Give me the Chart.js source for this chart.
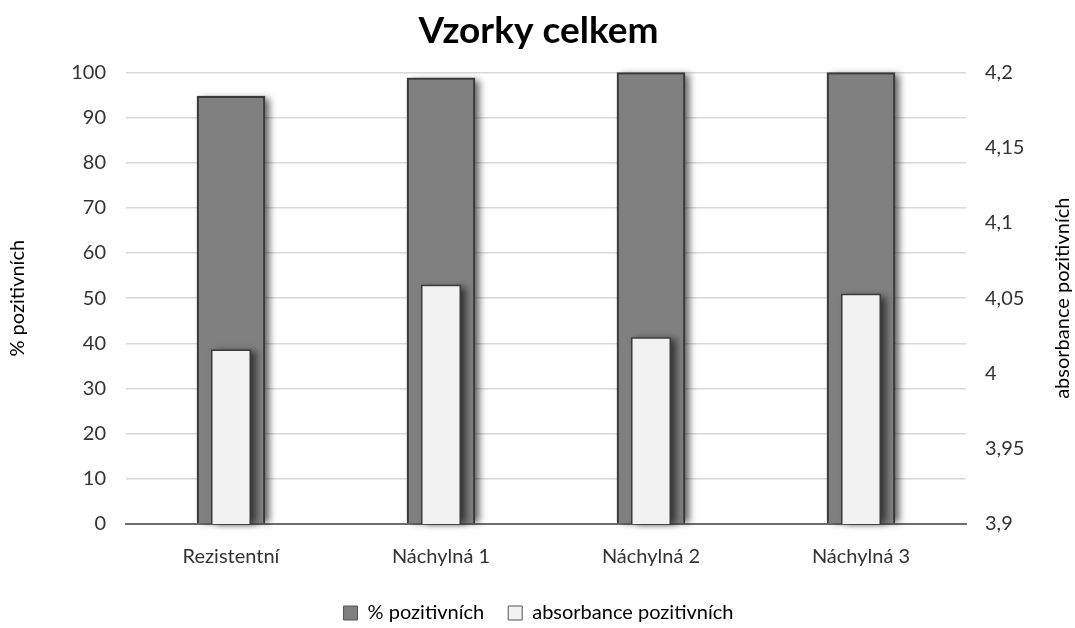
<!DOCTYPE html>
<html>
<head>
<meta charset="utf-8">
<script src="https://cdn.jsdelivr.net/npm/chart.js@4.4.1/dist/chart.umd.min.js"></script>
<style>
  html, body { margin: 0; padding: 0; background: #fff; }
  #wrap { width: 1075px; height: 628px; }
</style>
</head>
<body>
<div id="wrap"><canvas id="chart"></canvas></div>
<script>
// data
var categories = ["Rezistentní", "Náchylná 1", "Náchylná 2", "Náchylná 3"];
var pozitivni = [94.8, 98.8, 100, 100];
var absorbance = [4.016, 4.059, 4.024, 4.053];
var leftTicks = [0, 10, 20, 30, 40, 50, 60, 70, 80, 90, 100];
var rightTicks = [3.9, 3.95, 4, 4.05, 4.1, 4.15, 4.2];
var rightTitle = "absorbance pozitivních";

var FONT = "Lato, 'Open Sans', sans-serif";

// drop shadow under the bars (bar element clips its own shadow, so paint it first)
var barShadow = {
    id: 'barShadow',
    beforeDatasetDraw: function(chart, args) {
        var ctx = chart.ctx;
        var area = chart.chartArea;
        args.meta.data.forEach(function(bar) {
            var p = bar.getProps(['x', 'y', 'base', 'width'], true);
            var top = Math.max(Math.min(p.y, p.base), area.top);
            var bottom = Math.min(Math.max(p.y, p.base), area.bottom);
            ctx.save();
            ctx.shadowColor = 'rgba(0,0,0,0.6)';
            ctx.shadowBlur = 7;
            ctx.shadowOffsetX = 5;
            ctx.shadowOffsetY = 2;
            ctx.fillStyle = '#555';
            ctx.fillRect(p.x - p.width / 2, top, p.width, bottom - top - 2);
            ctx.restore();
        });
    }
};

// right axis title reads bottom-to-top like the Excel original
var rightAxisTitle = {
    id: 'rightAxisTitle',
    afterDraw: function(chart) {
        var ctx = chart.ctx;
        var area = chart.chartArea;
        ctx.save();
        ctx.translate(1063, (area.top + area.bottom) / 2);
        ctx.rotate(-Math.PI / 2);
        ctx.textAlign = 'center';
        ctx.textBaseline = 'middle';
        ctx.fillStyle = '#000';
        ctx.font = "20px " + FONT;
        ctx.fillText(rightTitle, 0, 0);
        ctx.restore();
    }
};

new Chart(document.getElementById("chart"), {
    type: 'bar',
    data: {
        labels: categories,
        datasets: [
            {
                label: "% pozitivních",
                data: pozitivni,
                yAxisID: 'y',
                backgroundColor: "#808080",
                borderColor: "#3a3a3a",
                borderWidth: 2,
                grouped: false,
                categoryPercentage: 1,
                barPercentage: 0.325,
                order: 2
            },
            {
                label: rightTitle,
                data: absorbance,
                yAxisID: 'y1',
                backgroundColor: "#f2f2f2",
                borderColor: "#3a3a3a",
                borderWidth: 1.5,
                grouped: false,
                categoryPercentage: 1,
                barPercentage: 0.19,
                order: 1
            }
        ]
    },
    options: {
        responsive: true,
        maintainAspectRatio: false,
        animation: false,
        layout: { padding: { top: 5, left: 6, right: 4, bottom: -5 } },
        plugins: {
            title: {
                display: true,
                text: 'Vzorky celkem',
                color: '#000',
                font: { family: FONT, size: 37, weight: 'bold' },
                padding: { top: 4, bottom: 19 }
            },
            legend: {
                position: 'bottom',
                labels: {
                    color: '#333',
                    font: { family: FONT, size: 20 },
                    boxWidth: 14,
                    boxHeight: 14,
                    padding: 24,
                    generateLabels: function(chart) {
                        return chart.data.datasets.map(function(ds, i) {
                            return {
                                text: ds.label,
                                fillStyle: ds.backgroundColor,
                                strokeStyle: '#555',
                                lineWidth: 1,
                                datasetIndex: i
                            };
                        });
                    }
                }
            },
            tooltip: { enabled: false }
        },
        scales: {
            x: {
                grid: { display: false, drawTicks: false },
                border: { display: true, color: '#6e6e6e', width: 2 },
                ticks: {
                    color: '#333',
                    font: { family: FONT, size: 20 },
                    padding: 21
                },
                afterFit: function(scale) { scale.height = 55; }
            },
            y: {
                position: 'left',
                min: 0,
                max: 100,
                afterBuildTicks: function(scale) {
                    scale.ticks = leftTicks.map(function(v) { return { value: v }; });
                },
                grid: { color: '#d9d9d9', lineWidth: 1.5, drawTicks: false },
                border: { display: false },
                ticks: {
                    color: '#333',
                    font: { family: FONT, size: 20 },
                    padding: 20
                },
                title: {
                    display: true,
                    text: '% pozitivních',
                    color: '#000',
                    font: { family: FONT, size: 20 },
                    padding: { top: 0, bottom: 8 }
                },
                afterFit: function(scale) { scale.width = 120; }
            },
            y1: {
                position: 'right',
                min: 3.9,
                max: 4.2,
                afterBuildTicks: function(scale) {
                    scale.ticks = rightTicks.map(function(v) { return { value: v }; });
                },
                grid: { display: false, drawTicks: false },
                border: { display: false },
                ticks: {
                    color: '#333',
                    font: { family: FONT, size: 20 },
                    padding: 19,
                    callback: function(v) {
                        return String(Math.round(v * 100) / 100).replace('.', ',');
                    }
                },
                title: { display: false },
                afterFit: function(scale) { scale.width = 105; }
            }
        }
    },
    plugins: [barShadow, rightAxisTitle]
});
</script>
</body>
</html>
